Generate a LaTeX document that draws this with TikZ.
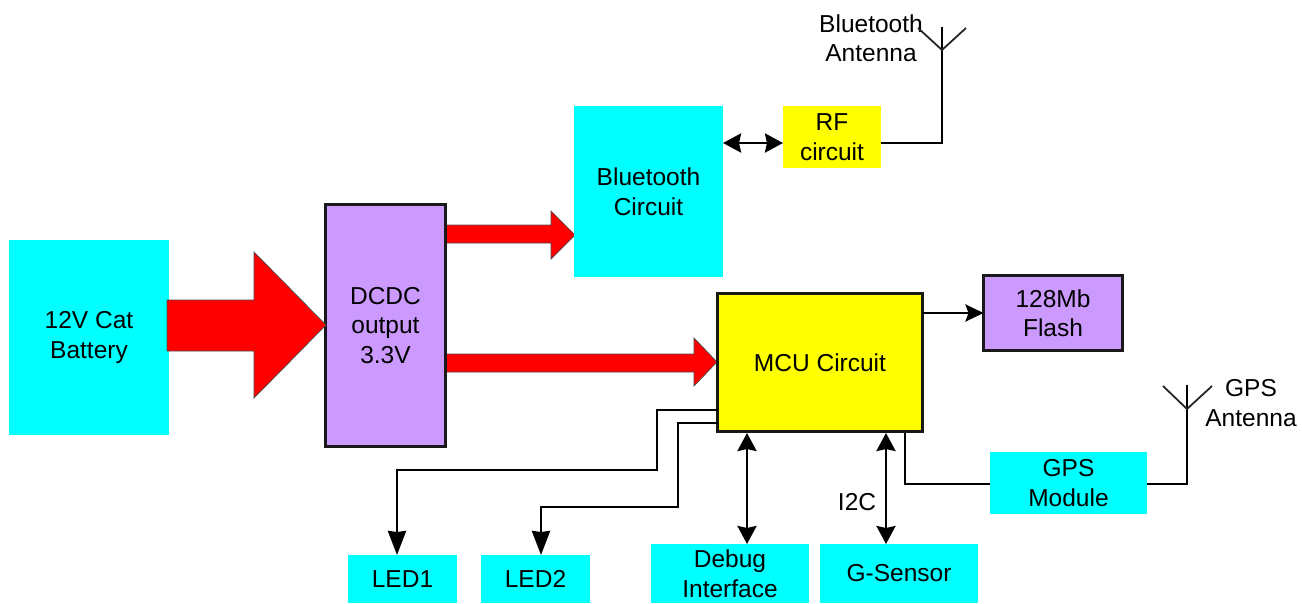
\documentclass[tikz,border=0pt]{standalone}
\usepackage{fontspec}
\setmainfont{Liberation Sans}
\usetikzlibrary{arrows.meta}
\definecolor{cyanbox}{RGB}{0,255,255}
\definecolor{purplebox}{RGB}{204,153,255}
\definecolor{yellowbox}{RGB}{255,255,0}
\definecolor{redarrow}{RGB}{255,0,0}
\tikzset{
  x=1pt,y=-1pt,
  every node/.style={font=\fontsize{24.5}{29.5}\selectfont,text=black,align=center,inner sep=0pt,outer sep=0pt},
  cybox/.style={fill=cyanbox},
  ylbox/.style={fill=yellowbox},
  pubox/.style={fill=purplebox,draw=black!90,line width=2.8pt},
  ymcu/.style={fill=yellowbox,draw=black!90,line width=2.8pt},
  conn/.style={draw=black,line width=2.8pt,line join=miter},
  tip/.style={-{Stealth[length=24pt,width=18pt,inset=1pt]}},
  dbltip/.style={{Stealth[length=18pt,width=19pt,inset=2pt]}-{Stealth[length=18pt,width=19pt,inset=2pt]}},
  smalltip/.style={-{Stealth[length=18pt,width=17pt,inset=3pt]}},
  power/.style={fill=redarrow,draw=black!70,line width=0.7pt,line join=miter},
  ant/.style={draw=black!85,line width=1.8pt},
}
\begin{document}
\begin{tikzpicture}
\useasboundingbox (0,0) rectangle (1302,603);
% power arrows (behind the boxes)
\draw[power] (445,225) -- (551,225) -- (551,211) -- (575,235) -- (551,259) -- (551,243) -- (445,243) -- cycle;
\draw[power] (445,354) -- (694,354) -- (694,338) -- (717,362) -- (694,386) -- (694,372) -- (445,372) -- cycle;
% boxes
\node[cybox,minimum width=160pt,minimum height=195pt] (bat) at (89,337.5) {12V Cat\\Battery};
\node[pubox,minimum width=120pt,minimum height=242pt] (dc) at (385.5,325.5) {DCDC\\output\\3.3V};
\node[cybox,minimum width=149pt,minimum height=171pt] (bt) at (648.5,191.5) {Bluetooth\\Circuit};
\node[ylbox,minimum width=98pt,minimum height=62pt] (rf) at (832,137) {RF\\circuit};
\node[ymcu,minimum width=205pt,minimum height=138pt] (mcu) at (820,362.5) {MCU Circuit};
\node[pubox,minimum width=139pt,minimum height=75pt] (flash) at (1053,313) {128Mb\\Flash};
\node[cybox,minimum width=157pt,minimum height=62pt] (gps) at (1068.5,483) {GPS\\Module};
\node[cybox,minimum width=109pt,minimum height=48pt] (led1) at (402.5,579) {LED1};
\node[cybox,minimum width=109pt,minimum height=48pt] (led2) at (535.5,579) {LED2};
\node[cybox,minimum width=158pt,minimum height=59pt] (dbg) at (730,573.5) {Debug\\Interface};
\node[cybox,minimum width=158pt,minimum height=59pt] (gs) at (899,573.5) {G-Sensor};
% large power arrow, over the battery edge
\draw[power] (167,300) -- (254,300) -- (254,252) -- (326,325) -- (254,398) -- (254,351) -- (167,351) -- cycle;
% labels
\node (btant) at (871,38) {Bluetooth\\Antenna};
\node (gpsant) at (1251,403) {GPS\\Antenna};
\node (i2c) at (857,502) {I2C};
% anchor points
\coordinate (a1) at (942,27);
\coordinate (a1f) at (942,50);
\coordinate (a1l) at (918,28);
\coordinate (a1r) at (966,28);
\coordinate (a2) at (1187,385);
\coordinate (a2f) at (1187,409);
\coordinate (a2l) at (1163,386);
\coordinate (a2r) at (1212,386);
\coordinate (rfp) at (rf.west |- 0,143);
\coordinate (rfq) at (rf.east |- 0,143);
\coordinate (gpsp) at (gps.west |- 0,484);
\coordinate (gpsq) at (gps.east |- 0,484);
\coordinate (m1) at (mcu.west |- 0,410);
\coordinate (m2) at (mcu.west |- 0,423);
\coordinate (md) at (747,433);
\coordinate (mg) at (886,433);
\coordinate (mp) at (905,433);
% connectors
\draw[conn,dbltip] (bt.east |- rfp) -- (rfp);
\draw[conn] (rfq) -| (a1);
\draw[ant] (a1l) -- (a1f) -- (a1r);
\draw[conn,smalltip] (mcu.east |- flash.west) -- (flash.west);
\draw[conn,tip] (m1) -- (657,410) -- (657,470) -- (397,470) -- (397,555);
\draw[conn,tip] (m2) -- (678,423) -- (678,507) -- (541,507) -- (541,555);
\draw[conn,dbltip] (md) -- (md |- dbg.north);
\draw[conn,dbltip] (mg) -- (mg |- gs.north);
\draw[conn] (mp) |- (gpsp);
\draw[conn] (gpsq) -| (a2);
\draw[ant] (a2l) -- (a2f) -- (a2r);
\end{tikzpicture}
\end{document}
